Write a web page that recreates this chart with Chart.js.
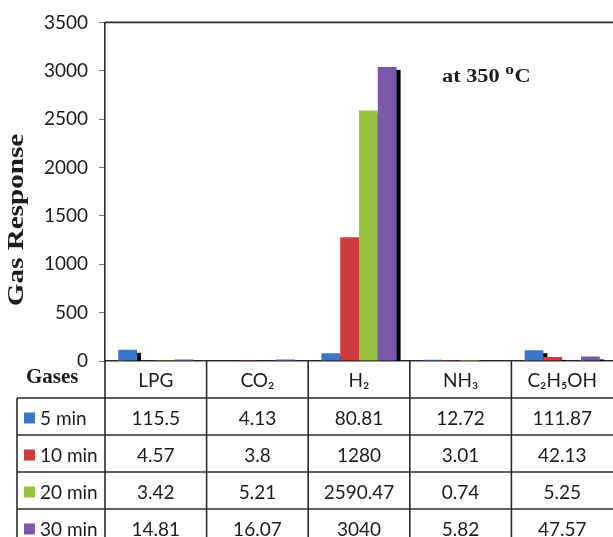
<!DOCTYPE html>
<html><head><meta charset="utf-8">
<script src="https://cdn.jsdelivr.net/npm/chart.js@4.4.0/dist/chart.umd.min.js"></script>
<style>html,body{margin:0;padding:0;background:#fff;overflow:hidden}canvas{display:block}</style>
</head><body>
<canvas id="c" width="613" height="537"></canvas>
<script>
// ---- data ----
const categories = ['LPG', 'CO₂', 'H₂', 'NH₃', 'C₂H₅OH'];
const seriesNames = ['5 min', '10 min', '20 min', '30 min'];
const min5  = [115.5, 4.13, 80.81, 12.72, 111.87];
const min10 = [4.57, 3.8, 1280, 3.01, 42.13];
const min20 = [3.42, 5.21, 2590.47, 0.74, 5.25];
const min30 = [14.81, 16.07, 3040, 5.82, 47.57];
const yTicks = [0, 500, 1000, 1500, 2000, 2500, 3000, 3500];
const yTitle = 'Gas Response';
const tableCorner = 'Gases';
const noteMain = 'at 350 ';
const noteSup = 'o';
const noteUnit = 'C';

// ---- styles ----
const seriesColors = ['#3b77c7', '#cf3b3b', '#99c23e', '#7c58a8'];
const SANS = 'Lato, "Open Sans", sans-serif';
const SERIF = '"Liberation Serif", "Times New Roman", serif';
const INK = '#1c1c1c';
const LINE = '#2a2a2a';
const ROW_H = 37;
const TABLE_LEFT = 17;

const seriesValues = [min5, min10, min20, min30];

const shadowPlugin = {
  id: 'barShadow',
  beforeDatasetsDraw(chart) {
    const {ctx, chartArea: a} = chart;
    ctx.save();
    ctx.beginPath();
    ctx.rect(a.left, a.top, a.right - a.left + 8, a.bottom - a.top);
    ctx.clip();
    ctx.fillStyle = '#000';
    chart.data.datasets.forEach((ds, i) => {
      chart.getDatasetMeta(i).data.forEach(el => {
        const {x, y, base, width} = el.getProps(['x', 'y', 'base', 'width'], true);
        const h = base - y;
        if (h <= 3) return;
        ctx.fillRect(x - width / 2 + 4, y + 3, width, h);
      });
    });
    ctx.restore();
  }
};

const decorPlugin = {
  id: 'decor',
  afterDraw(chart) {
    const {ctx, chartArea: a, scales: {x}} = chart;
    const W = chart.width, H = chart.height;
    const n = categories.length;
    const catW = (a.right - a.left) / n;
    ctx.save();
    ctx.strokeStyle = LINE;
    ctx.lineWidth = 1.6;
    // top frame line
    ctx.beginPath();
    ctx.moveTo(a.left, a.top); ctx.lineTo(W, a.top);
    ctx.stroke();
    // vertical separators of table
    for (let i = 0; i < n; i++) {
      const bx = x.getPixelForValue(i) - catW / 2;
      ctx.beginPath(); ctx.moveTo(bx, a.bottom); ctx.lineTo(bx, H); ctx.stroke();
    }
    // table left border
    const tTop = a.bottom + ROW_H;
    ctx.beginPath(); ctx.moveTo(TABLE_LEFT, tTop); ctx.lineTo(TABLE_LEFT, H); ctx.stroke();
    // horizontal lines
    for (let r = 0; r < seriesNames.length; r++) {
      const yy = tTop + r * ROW_H;
      ctx.beginPath(); ctx.moveTo(TABLE_LEFT, yy); ctx.lineTo(W, yy); ctx.stroke();
    }
    // rows
    ctx.font = '19px ' + SANS;
    ctx.textBaseline = 'middle';
    seriesNames.forEach((name, r) => {
      const cy = tTop + r * ROW_H + ROW_H / 2;
      ctx.fillStyle = seriesColors[r];
      ctx.fillRect(24, cy - 4, 11, 11);
      ctx.fillStyle = INK;
      ctx.textAlign = 'left';
      ctx.fillText(name, 40, cy + 2);
      ctx.textAlign = 'center';
      seriesValues[r].forEach((v, i) => {
        ctx.fillText(String(v), x.getPixelForValue(i), cy + 2);
      });
    });
    // corner label
    ctx.font = 'bold 21px ' + SERIF;
    ctx.textAlign = 'left';
    ctx.fillStyle = INK;
    ctx.fillText(tableCorner, 26, a.bottom + 17);
    // y title (stretched along text direction)
    ctx.save();
    ctx.translate(17, 220);
    ctx.rotate(-Math.PI / 2);
    ctx.scale(1.24, 1);
    ctx.font = 'bold 23.5px ' + SERIF;
    ctx.textAlign = 'center';
    ctx.textBaseline = 'middle';
    ctx.fillText(yTitle, 0, 0);
    ctx.restore();
    // note
    ctx.save();
    ctx.translate(442, 82);
    ctx.scale(1.24, 1);
    ctx.textBaseline = 'alphabetic';
    ctx.textAlign = 'left';
    ctx.font = 'bold 18px ' + SERIF;
    ctx.fillText(noteMain, 0, 0);
    let w = ctx.measureText(noteMain).width;
    ctx.font = 'bold 14px ' + SERIF;
    ctx.fillText(noteSup, w, -8);
    w += ctx.measureText(noteSup).width + 0.5;
    ctx.font = 'bold 18px ' + SERIF;
    ctx.fillText(noteUnit, w, 0);
    ctx.restore();
    ctx.restore();
  }
};

new Chart(document.getElementById('c'), {
  type: 'bar',
  data: {
    labels: categories,
    datasets: seriesNames.map((name, i) => ({
      label: name,
      data: seriesValues[i],
      backgroundColor: seriesColors[i],
      borderWidth: 0,
      categoryPercentage: 0.74,
      barPercentage: 1.0
    }))
  },
  options: {
    responsive: false,
    animation: false,
    devicePixelRatio: 1,
    layout: {padding: {left: 0, right: 0, top: 18, bottom: 0}},
    plugins: {legend: {display: false}, tooltip: {enabled: false}},
    scales: {
      x: {
        grid: {display: false, drawTicks: false},
        border: {display: true, color: LINE, width: 1.6},
        ticks: {color: INK, font: {family: SANS, size: 19}, padding: 8, maxRotation: 0, autoSkip: false},
        afterFit(s) { s.height = 176; }
      },
      y: {
        min: yTicks[0],
        max: yTicks[yTicks.length - 1],
        grid: {drawOnChartArea: false, tickLength: 6, color: '#777', lineWidth: 1},
        border: {display: true, color: LINE, width: 1.6},
        ticks: {stepSize: yTicks[1] - yTicks[0], color: INK, font: {family: SANS, size: 19}, padding: 11,
                callback: v => String(v)},
        afterFit(s) { s.width = 105; }
      }
    }
  },
  plugins: [shadowPlugin, decorPlugin]
});
</script>
</body></html>
